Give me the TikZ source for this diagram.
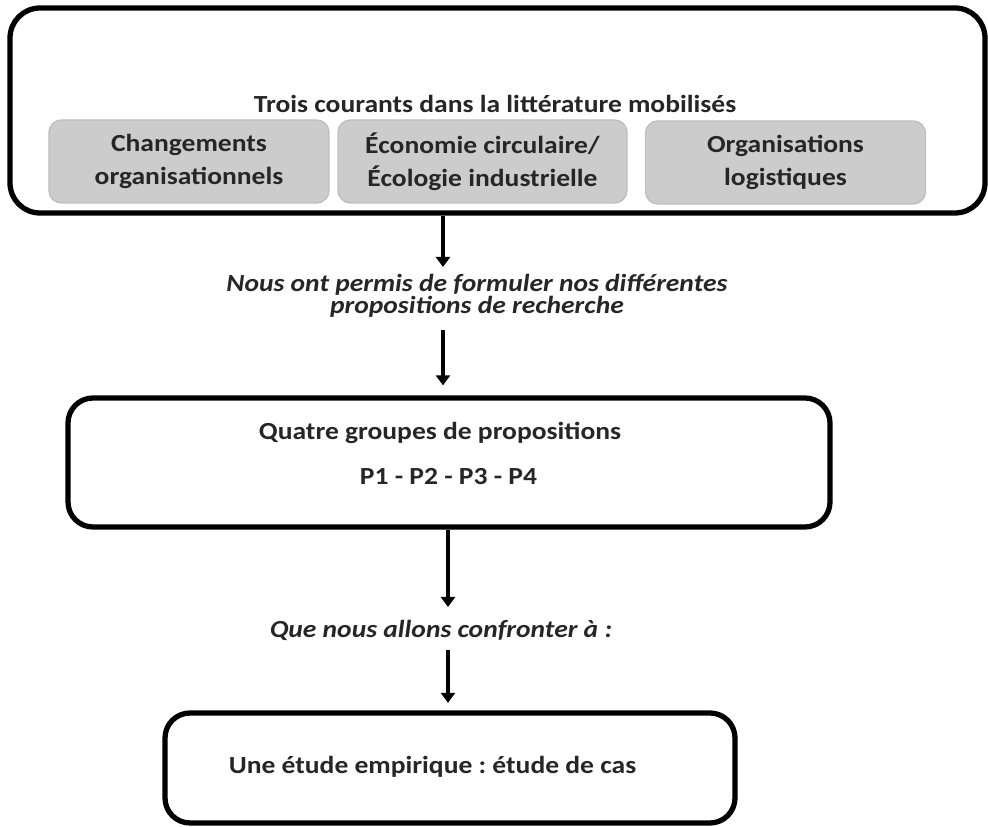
\documentclass[tikz,border=0pt]{standalone}
\usepackage{fontspec}
\setmainfont{Carlito}[FakeStretch=1.12]
\frenchspacing
\usetikzlibrary{arrows.meta}
\begin{document}
\begin{tikzpicture}[
    >={Triangle[width=0.28cm,length=0.2cm]},
    font=\fontsize{14}{18.7}\selectfont\bfseries,
    text=black!85,
    % frames with thick black border
    frame/.style={draw=black, line width=3pt, rounded corners=5mm, fill=white, inner sep=0pt},
    % grey boxes for the three streams
    stream/.style={draw=black!25, line width=0.8pt, rounded corners=2.5mm, fill=black!20, align=center,
                   minimum width=5.6cm, minimum height=1.66cm, inner sep=1mm},
    ann/.style={font=\fontsize{14}{12.8}\selectfont\bfseries\itshape, align=center},
    flow/.style={->, line width=2.3pt, draw=black}
  ]

  \useasboundingbox (0, 0) rectangle (19.76, 16.54);

  % ---------------------------------------------------------
  % TOP FRAME: LITERATURE
  % ---------------------------------------------------------
  \node[frame, rounded corners=6mm, minimum width=19.5cm, minimum height=4.1cm] (lit) at (9.95, 14.33) {};
  \node (littitle) at (9.9, 14.46) {Trois courants dans la littérature mobilisés};

  \node[stream] (chg) at (3.78, 13.31) {Changements\\organisationnels};
  \node[stream, minimum width=5.78cm] (eco) at (9.65, 13.31) {Économie circulaire/\\Écologie industrielle};
  \node[stream] (logi) at (15.71, 13.29) {Organisations\\logistiques};

  % ---------------------------------------------------------
  % MIDDLE FRAME: PROPOSITIONS
  % ---------------------------------------------------------
  \node[ann] (permis) at (9.54, 10.62) {Nous ont permis de formuler nos différentes\\propositions de recherche};

  \node[frame, minimum width=15.24cm, minimum height=2.58cm] (props) at (8.98, 7.29) {};
  \node (propstitle) at (8.8, 7.88) {Quatre groupes de propositions};
  \node (plist) at (8.97, 7.0) {P1 - P2 - P3 - P4};

  % ---------------------------------------------------------
  % BOTTOM FRAME: CASE STUDY
  % ---------------------------------------------------------
  \node[ann] (confr) at (8.82, 3.94) {Que nous allons confronter à :};

  \node[frame, minimum width=11.4cm, minimum height=2.2cm] (cas) at (9.0, 1.18) {};
  \node (castitle) at (8.65, 1.2) {Une étude empirique : étude de cas};

  % ---------------------------------------------------------
  % ARROWS
  % ---------------------------------------------------------
  \coordinate (a1end) at (8.86, 11.2);
  \coordinate (a2start) at (8.86, 9.94);
  \coordinate (a3end) at (8.96, 4.4);
  \coordinate (a4start) at (8.96, 3.54);

  \draw[flow] (lit.south -| a1end) -- (a1end);
  \draw[flow, shorten >=2mm] (a2start) -- (props.north -| a2start);
  \draw[flow] (props.south -| a3end) -- (a3end);
  \draw[flow, shorten >=1.5mm] (a4start) -- (cas.north -| a4start);

\end{tikzpicture}
\end{document}
